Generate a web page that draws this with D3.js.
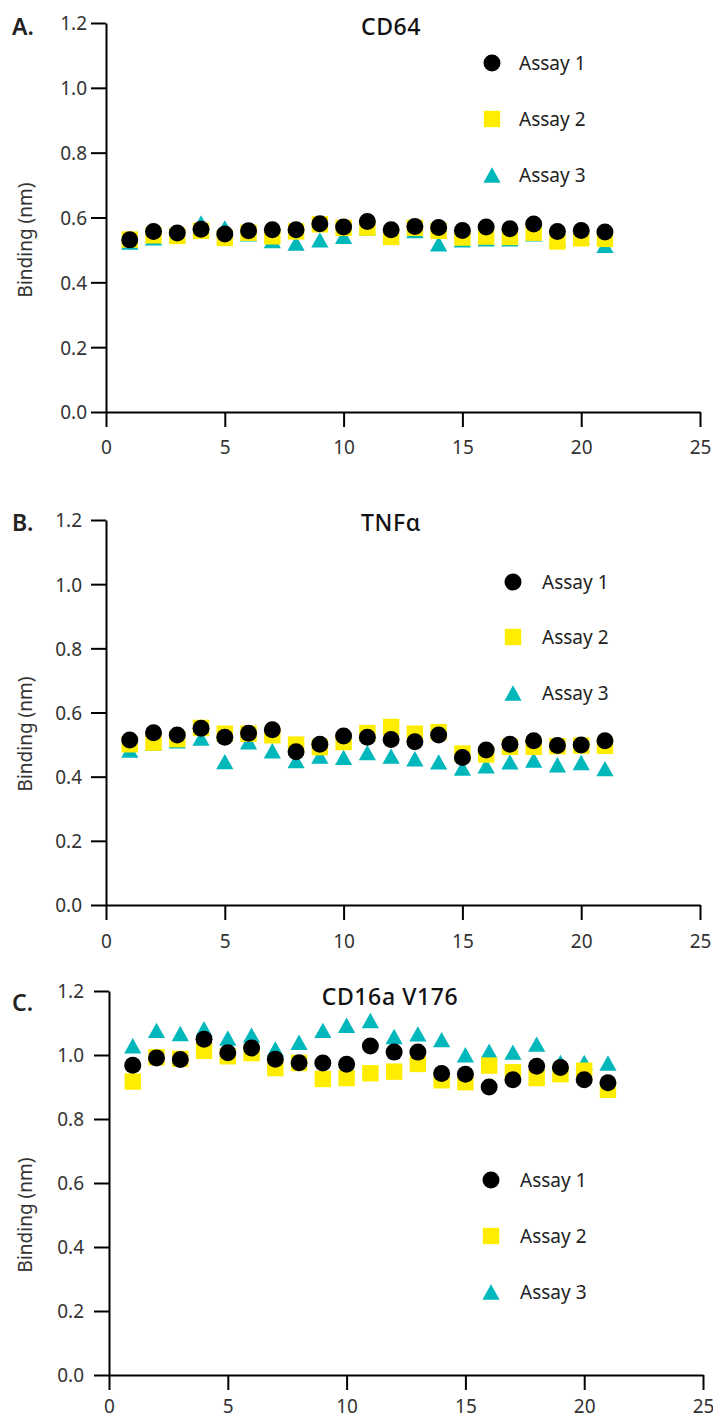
<!DOCTYPE html>
<html>
<head>
<meta charset="utf-8">
<script src="https://cdn.jsdelivr.net/npm/d3@7"></script>
<style>
  body { margin: 0; background: #fff; }
  svg { display: block; }
  text { font-family: "Noto Sans", sans-serif; }
</style>
</head>
<body>
<svg id="chart" width="713" height="1420"></svg>
<script>
'use strict';

// sample number on the x axis
const samples = [1, 2, 3, 4, 5, 6, 7, 8, 9, 10, 11, 12, 13, 14, 15, 16, 17, 18, 19, 20, 21];

const xTicks = [0, 5, 10, 15, 20, 25];
const yTicks = [0, 0.2, 0.4, 0.6, 0.8, 1.0, 1.2];
const yTickLabels = ["0.0", "0.2", "0.4", "0.6", "0.8", "1.0", "1.2"];

const assayNames = ["Assay 1", "Assay 2", "Assay 3"];

// A. CD64
const cd64Assay1 = [0.531, 0.557, 0.552, 0.564, 0.549, 0.559, 0.562, 0.562, 0.581, 0.571, 0.588,
                    0.562, 0.572, 0.569, 0.560, 0.571, 0.565, 0.580, 0.557, 0.560, 0.555];
const cd64Assay2 = [0.532, 0.545, 0.543, 0.559, 0.537, 0.553, 0.542, 0.557, 0.579, 0.568, 0.569,
                    0.540, 0.568, 0.559, 0.538, 0.541, 0.540, 0.553, 0.526, 0.536, 0.534];
const cd64Assay3 = [0.524, 0.537, 0.545, 0.583, 0.568, 0.550, 0.529, 0.521, 0.531, 0.542, 0.568,
                    0.545, 0.560, 0.519, 0.531, 0.534, 0.534, 0.550, 0.530, 0.540, 0.514];

// B. TNFα
const tnfAssay1 = [0.514, 0.537, 0.530, 0.551, 0.523, 0.535, 0.546, 0.478, 0.501, 0.527, 0.523,
                   0.516, 0.509, 0.530, 0.460, 0.483, 0.501, 0.512, 0.497, 0.499, 0.512];
const tnfAssay2 = [0.501, 0.506, 0.517, 0.552, 0.534, 0.534, 0.529, 0.500, 0.492, 0.508, 0.536,
                   0.555, 0.534, 0.539, 0.472, 0.469, 0.493, 0.493, 0.495, 0.497, 0.496];
const tnfAssay3 = [0.483, 0.505, 0.512, 0.520, 0.447, 0.509, 0.481, 0.450, 0.464, 0.460, 0.475,
                   0.464, 0.456, 0.446, 0.427, 0.434, 0.446, 0.452, 0.437, 0.444, 0.425];

// C. CD16a V176
const cd16Assay1 = [0.968, 0.991, 0.986, 1.049, 1.007, 1.022, 0.987, 0.976, 0.975, 0.971, 1.028,
                    1.009, 1.009, 0.942, 0.940, 0.900, 0.923, 0.965, 0.961, 0.923, 0.913];
const cd16Assay2 = [0.917, 0.993, 0.988, 1.013, 0.996, 1.006, 0.959, 0.975, 0.925, 0.928, 0.943,
                    0.948, 0.972, 0.921, 0.915, 0.967, 0.946, 0.928, 0.940, 0.951, 0.891];
const cd16Assay3 = [1.029, 1.077, 1.067, 1.082, 1.053, 1.062, 1.019, 1.040, 1.077, 1.093, 1.108,
                    1.058, 1.066, 1.048, 1.001, 1.012, 1.009, 1.034, 0.977, 0.977, 0.975];

const titles = ["CD64", "TNFα", "CD16a V176"];
const panelLetters = ["A.", "B.", "C."];

/* where each panel sits on the page */
const panels = [
  { title: titles[0], letter: panelLetters[0], series: [cd64Assay1, cd64Assay2, cd64Assay3],
    x0: 106, x1: 700, yTop: 23, yBottom: 412, labelGap: 4, xLabelY: 42,
    titleX: 391, titleY: 35, letterY: 35, ylabelY: 240,
    legendX: 492, legendY: [63, 119, 175], legendTextX: 519 },
  { title: titles[1], letter: panelLetters[1], series: [tnfAssay1, tnfAssay2, tnfAssay3],
    x0: 106, x1: 700, yTop: 520, yBottom: 905, labelGap: 9, xLabelY: 43,
    titleX: 391, titleY: 531, letterY: 531, ylabelY: 734,
    legendX: 513, legendY: [582, 637, 693], legendTextX: 542 },
  { title: titles[2], letter: panelLetters[2], series: [cd16Assay1, cd16Assay2, cd16Assay3],
    x0: 109, x1: 703, yTop: 991, yBottom: 1375, labelGap: 10, xLabelY: 38,
    titleX: 390, titleY: 1005, letterY: 1011, ylabelY: 1215,
    legendX: 491, legendY: [1180, 1236, 1292], legendTextX: 520 }
];

const colors = ["#000000", "#ffed00", "#00b7bc"];

// marker shapes, centred on their bounding box
function marker(kind) {
  if (kind === 0) return d3.symbol().type(d3.symbolCircle).size(Math.PI * 8.5 * 8.5)();
  if (kind === 1) return "M-8.2,-8.2H8.2V8.2H-8.2Z";
  return "M0,-7.7L8.6,7.7H-8.6Z";
}

const svg = d3.select("#chart");

panels.forEach(function (p) {
  const x = d3.scaleLinear().domain([0, 25]).range([p.x0, p.x1]);
  const y = d3.scaleLinear().domain([0, 1.2]).range([p.yBottom, p.yTop]);

  const g = svg.append("g");

  // x axis
  const xAxis = g.append("g")
    .attr("transform", `translate(0,${p.yBottom})`)
    .call(d3.axisBottom(x).tickValues(xTicks).tickSize(15).tickSizeOuter(0));
  xAxis.selectAll("text")
    .attr("y", p.xLabelY).attr("dy", null)
    .style("font-size", "19px").style("fill", "#333");

  // y axis
  const yAxis = g.append("g")
    .attr("transform", `translate(${p.x0},0)`)
    .call(d3.axisLeft(y).tickValues(yTicks).tickSize(15).tickSizeOuter(0)
      .tickPadding(p.labelGap)
      .tickFormat((d, i) => yTickLabels[i]));
  yAxis.selectAll("text")
    .attr("dy", "0.36em")
    .style("font-size", "19px").style("fill", "#333");

  g.selectAll(".domain, .tick line")
    .attr("stroke", "#000").attr("stroke-width", 2);

  g.append("text")
    .attr("transform", `translate(32,${p.ylabelY}) rotate(-90)`)
    .attr("text-anchor", "middle")
    .style("font-size", "19px").style("fill", "#333")
    .text("Binding (nm)");

  g.append("text")
    .attr("x", 12).attr("y", p.letterY)
    .style("font-size", "23px").style("font-weight", 600).style("fill", "#222")
    .text(p.letter);

  g.append("text")
    .attr("x", p.titleX).attr("y", p.titleY)
    .attr("text-anchor", "middle")
    .style("font-size", "23px").style("font-weight", 500).style("fill", "#111")
    .style("letter-spacing", "0.6px")
    .text(p.title);

  // points: triangles underneath, then squares, circles on top
  [2, 1, 0].forEach(function (k) {
    g.append("g").selectAll("path")
      .data(samples)
      .join("path")
        .attr("d", marker(k))
        .attr("transform", (s, i) => `translate(${x(s)},${y(p.series[k][i])})`)
        .attr("fill", colors[k]);
  });

  // legend
  const legend = g.append("g");
  assayNames.forEach(function (name, k) {
    legend.append("path")
      .attr("d", marker(k))
      .attr("transform", `translate(${p.legendX},${p.legendY[k]})`)
      .attr("fill", colors[k]);
    legend.append("text")
      .attr("x", p.legendTextX).attr("y", p.legendY[k] + 7)
      .style("font-size", "19px").style("fill", "#222")
      .text(name);
  });
});
</script>
</body>
</html>
